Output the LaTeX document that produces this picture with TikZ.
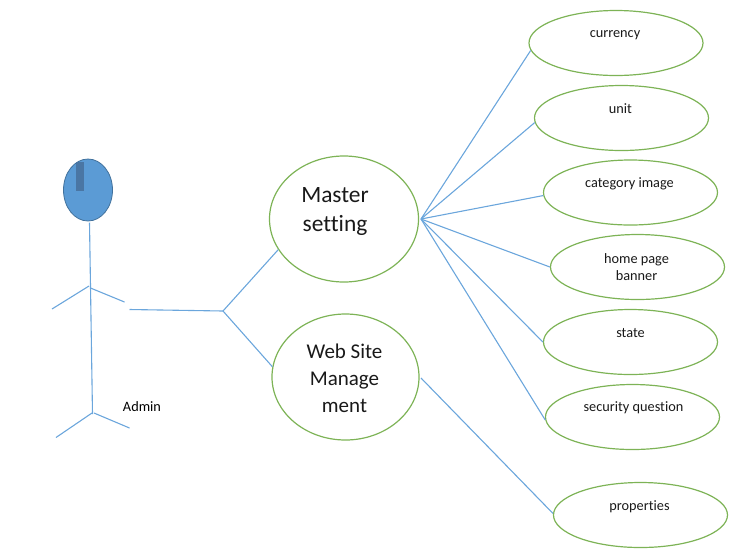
\documentclass[tikz,border=0pt]{standalone}
\usepackage{fontspec}
\setmainfont{Carlito}[Ligatures=NoCommon]
\usetikzlibrary{shapes.geometric}
\definecolor{wire}{HTML}{6BA6DC}
\definecolor{headfill}{HTML}{5B9BD5}
\definecolor{ring}{HTML}{7DB356}
\definecolor{headline}{HTML}{41719C}
\definecolor{headmark}{HTML}{4A76A4}
\tikzset{
  wirel/.style={draw=wire,line width=1.1pt},
  ucase/.style={shape=ellipse,draw=ring,line width=1.2pt,minimum width=174pt,minimum height=65pt,inner sep=0pt},
  bigcase/.style={shape=ellipse,draw=ring,line width=1.2pt,minimum width=149pt,minimum height=126pt,inner sep=0pt},
  small/.style={font=\fontsize{14.3}{17.5}\selectfont,align=center,inner sep=0pt,text=black!90},
  large/.style={font=\fontsize{23.4}{29}\selectfont,align=center,inner sep=0pt,text=black!90},
  largew/.style={font=\fontsize{21}{27.2}\selectfont,align=center,inner sep=0pt,text=black!90},
}
\begin{document}
\begin{tikzpicture}[x=1pt,y=-1pt]
\useasboundingbox (0,0) rectangle (744,558);
% use cases
\node[bigcase,label={[large,xshift=-9pt,yshift=7.5pt]center:Master\\setting}] (master) at (344,219) {};
\node[bigcase,minimum width=147pt,label={[largew,xshift=-1pt,yshift=-1pt]center:Web Site\\Manage\\ment}] (web) at (345.5,377) {};
\node[ucase,label={[small,xshift=-1pt,yshift=8pt]center:currency}] (cur) at (616,43) {};
\node[ucase,label={[small,xshift=-1pt,yshift=9pt]center:unit}] (unit) at (621.5,118) {};
\node[ucase,label={[small,xshift=-1pt,yshift=8.5pt]center:category image}] (cat) at (630.5,192.5) {};
\node[ucase,label={[small,xshift=-1pt,yshift=0pt]center:home page\\banner}] (home) at (637.5,267) {};
\node[ucase,label={[small,xshift=0pt,yshift=9pt]center:state}] (state) at (630.5,342) {};
\node[ucase,label={[small,xshift=1pt,yshift=9pt]center:security question}] (sec) at (632.5,417) {};
\node[ucase,label={[small,xshift=-1pt,yshift=8pt]center:properties}] (prop) at (640.5,515) {};
% actor
\node[shape=ellipse,draw=headline,fill=headfill,line width=0.8pt,minimum width=49pt,minimum height=62pt,inner sep=0pt] (head) at (88,190) {};
\fill[headmark] (76,162) rectangle (84,191);
\coordinate (neck) at (89.5,222.5);
\coordinate (crotch) at (92.5,414);
\coordinate (lshoulder) at (89,286);
\coordinate (rshoulder) at (90.5,288);
\coordinate (lhand) at (52,309);
\coordinate (rhand) at (124.5,302);
\coordinate (lhip) at (92,413);
\coordinate (rhip) at (94,413);
\coordinate (lfoot) at (56,437.5);
\coordinate (rfoot) at (129.5,428);
\draw[wirel] (neck) -- (crotch);
\draw[wirel] (lshoulder) -- (lhand);
\draw[wirel] (rshoulder) -- (rhand);
\draw[wirel] (lhip) -- (lfoot);
\draw[wirel] (rhip) -- (rfoot);
\node[small,text=black] (admin) at (142,407) {Admin};
% connectors
\coordinate (assocstart) at (129.5,309.5);
\coordinate (fork) at (223,311);
\coordinate (hub) at (421,219);
\coordinate (webout) at (421,378);
\draw[wirel] (assocstart) -- (fork);
\draw[wirel] (fork) -- (master.205);
\draw[wirel] (fork) -- (web.172);
\draw[wirel] (hub) -- (cur.185);
\draw[wirel] (hub) -- (unit.183);
\draw[wirel] (hub) -- (cat.182);
\draw[wirel] (hub) -- (home.180);
\draw[wirel] (hub) -- (state.180);
\draw[wirel] (hub) -- (sec.182);
\draw[wirel] (webout) -- (prop.179);
\end{tikzpicture}
\end{document}
